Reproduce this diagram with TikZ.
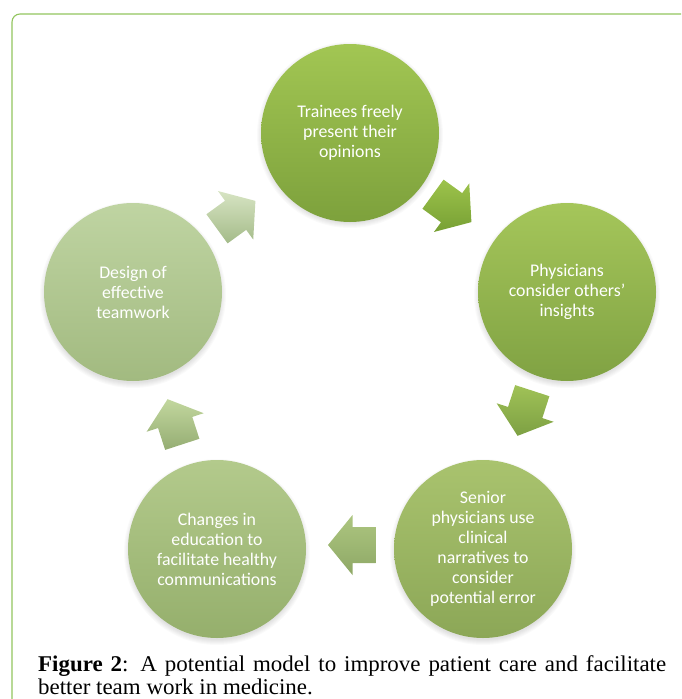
\documentclass[tikz,border=0pt]{standalone}
\usepackage{fontspec}
\setmainfont{Carlito}
\newfontfamily\capfont[FakeStretch=1.02]{Liberation Serif}
\definecolor{framegreen}{HTML}{92C55E}
\tikzset{
  bubble/.style={circle, minimum size=178pt, inner sep=0pt, align=center, text=white,
    font=\fontsize{17.8}{20}\selectfont},
}
\newcommand\softshadow[2]{\foreach \k in {0,...,5}{\fill[black,opacity=0.018] (#1,{#2+3}) circle ({88+\k});}}
\newcommand\arrowshape{(-24,0) -- (0.5,-30) -- (0.5,-18) -- (23.5,-18) -- (23.5,18) -- (0.5,18) -- (0.5,30) -- cycle}
\begin{document}
\begin{tikzpicture}[x=1pt,y=-1pt]
\useasboundingbox (0,0) rectangle (681,699);
\begin{scope}
\clip (0,0) rectangle (681,699);
\draw[framegreen, line width=1.1pt, rounded corners=8pt] (12,720) -- (12,14) -- (700,14);
\end{scope}
% shadows
\softshadow{350}{132}
\softshadow{567}{292}
\softshadow{483}{549}
\softshadow{217}{549}
\softshadow{133}{292}
% circles
\node[bubble, top color={rgb,255:red,162;green,198;blue,83}, bottom color={rgb,255:red,125;green,161;blue,60}] (c1) at (350,133) {Trainees freely\\present their\\opinions};
\node[bubble, top color={rgb,255:red,165;green,198;blue,90}, bottom color={rgb,255:red,128;green,162;blue,67}] (c2) at (567,292) {Physicians\\consider others’\\insights};
\node[bubble, top color={rgb,255:red,169;green,195;blue,110}, bottom color={rgb,255:red,140;green,167;blue,87}] (c3) at (483,549) {Senior\\physicians use\\clinical\\narratives to\\consider\\potential error};
\node[bubble, top color={rgb,255:red,179;green,202;blue,140}, bottom color={rgb,255:red,149;green,175;blue,108}] (c4) at (217,549) {Changes in\\education to\\facilitate healthy\\communications};
\node[bubble, top color={rgb,255:red,191;green,212;blue,162}, bottom color={rgb,255:red,162;green,186;blue,128}] (c5) at (133,292) {Design of\\effective\\teamwork};
% block arrows
\shade[top color={rgb,255:red,157;green,195;blue,75}, bottom color={rgb,255:red,119;green,160;blue,52}, shift={(452,208)}, rotate=144] \arrowshape;
\shade[top color={rgb,255:red,160;green,194;blue,87}, bottom color={rgb,255:red,125;green,160;blue,67}, shift={(525,413)}, rotate=72] \arrowshape;
\shade[top color={rgb,255:red,173;green,198;blue,128}, bottom color={rgb,255:red,142;green,168;blue,102}, shift={(352,545)}] \arrowshape;
\shade[top color={rgb,255:red,194;green,215;blue,158}, bottom color={rgb,255:red,149;green,173;blue,115}, shift={(175,422)}, rotate=-72] \arrowshape;
\shade[top color={rgb,255:red,215;green,228;blue,195}, bottom color={rgb,255:red,164;green,187;blue,137}, shift={(236,215)}, rotate=-144] \arrowshape;
% caption
\node[anchor=base west, inner sep=0pt, font=\capfont\fontsize{22.5}{23}\selectfont] (cap1) at (38,671) {\hbox to 628pt{\textbf{Figure 2}: A potential model to improve patient care and facilitate}};
\node[anchor=base west, inner sep=0pt, font=\capfont\fontsize{22.5}{23}\selectfont] (cap2) at (38,694) {better team work in medicine.};
\end{tikzpicture}
\end{document}
